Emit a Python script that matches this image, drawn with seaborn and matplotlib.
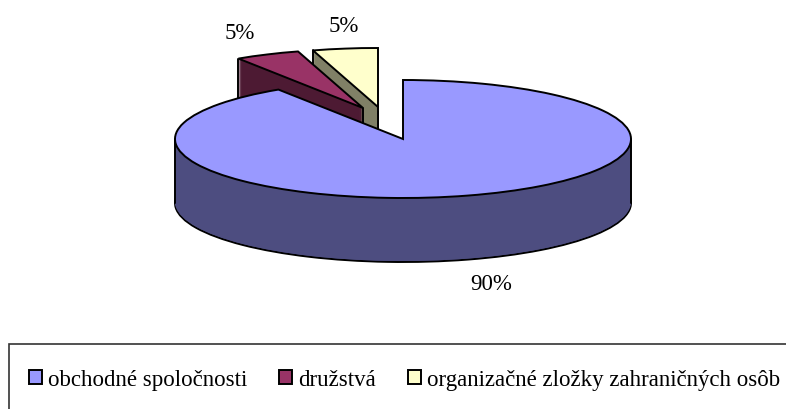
import matplotlib
matplotlib.use("Agg")
import matplotlib.pyplot as plt
import numpy as np
import seaborn as sns
from matplotlib.patches import Rectangle

categories = ["obchodné spoločnosti", "družstvá", "organizačné zložky zahraničných osôb"]
shares = [90.8, 4.6, 4.6]
share_labels = ["90%", "5%", "5%"]
top_colors = ["#9999FF", "#993366", "#FFFFCC"]
side_colors = ["#4D4D80", "#4D1A33", "#808066"]

sns.set_theme(style="white")
plt.rcParams["font.family"] = ["Liberation Serif", "DejaVu Serif"]

W, H = 786, 410
RX, RY = 228, 59
DEPTH = 64
# apex of each slice in pixels of the picture
APEX = [(403, 140), (363, 109), (378, 108)]
# slices further back are drawn first
ZBASE = [30, 20, 10]


def to_units(px, py):
    return px / RX, (H - py) / RY


fig = plt.figure(figsize=(W / 100, H / 100), dpi=100)
ax = fig.add_axes([0, 0, 1, 1])

top_wedges = None
for d in range(DEPTH, -1, -1):
    wedges, _ = ax.pie(shares, startangle=90, counterclock=False, radius=1)
    for i, w in enumerate(wedges):
        w.set_center(to_units(APEX[i][0], APEX[i][1] + d))
        if d == 0:
            w.set(facecolor=top_colors[i], edgecolor="black", linewidth=1.4, zorder=ZBASE[i] + 3)
        elif d == DEPTH:
            w.set(facecolor=side_colors[i], edgecolor="black", linewidth=1.4, zorder=ZBASE[i])
        else:
            w.set(facecolor=side_colors[i], edgecolor="none", zorder=ZBASE[i] + 1)
    if d == 0:
        top_wedges = wedges

# vertical edges of the sides
for i, w in enumerate(top_wedges):
    cx, cy = to_units(*APEX[i])
    if i == 0:
        xs = [cx - 1, cx + 1]
        ys = [cy, cy]
    else:
        ang = np.radians(w.theta2)
        xs = [cx + np.cos(ang), cx]
        ys = [cy + np.sin(ang), cy]
    for x, y in zip(xs, ys):
        ax.plot([x, x], [y, y - DEPTH / RY], color="black", lw=1.4, zorder=ZBASE[i] + 2)

ax.set_aspect("auto")
ax.set_xlim(0, W / RX)
ax.set_ylim(0, H / RY)
ax.axis("off")

label_pos = [(491, 285), (240, 33), (344, 26)]
for txt, (px, py) in zip(share_labels, label_pos):
    x, y = to_units(px, py)
    ax.text(x, y, txt, ha="center", va="center", fontsize=16.5, color="black")

# legend box runs off the right and bottom of the picture
fig.add_artist(Rectangle(
    (9 / W, -20 / H), 800 / W, (H + 20 - 345) / H,
    transform=fig.transFigure, facecolor="white", edgecolor="#333333", linewidth=1.2,
))

fig.legend(
    handles=list(top_wedges),
    labels=categories,
    ncol=3,
    loc="upper left",
    bbox_to_anchor=(29 / W, 1 - 370 / H),
    bbox_transform=fig.transFigure,
    borderaxespad=0,
    borderpad=0,
    fontsize=16.5,
    labelcolor="black",
    frameon=False,
    handlelength=0.57,
    handleheight=0.57,
    handletextpad=0.26,
    columnspacing=1.4,
)

fig.savefig("out.png", dpi=100)
